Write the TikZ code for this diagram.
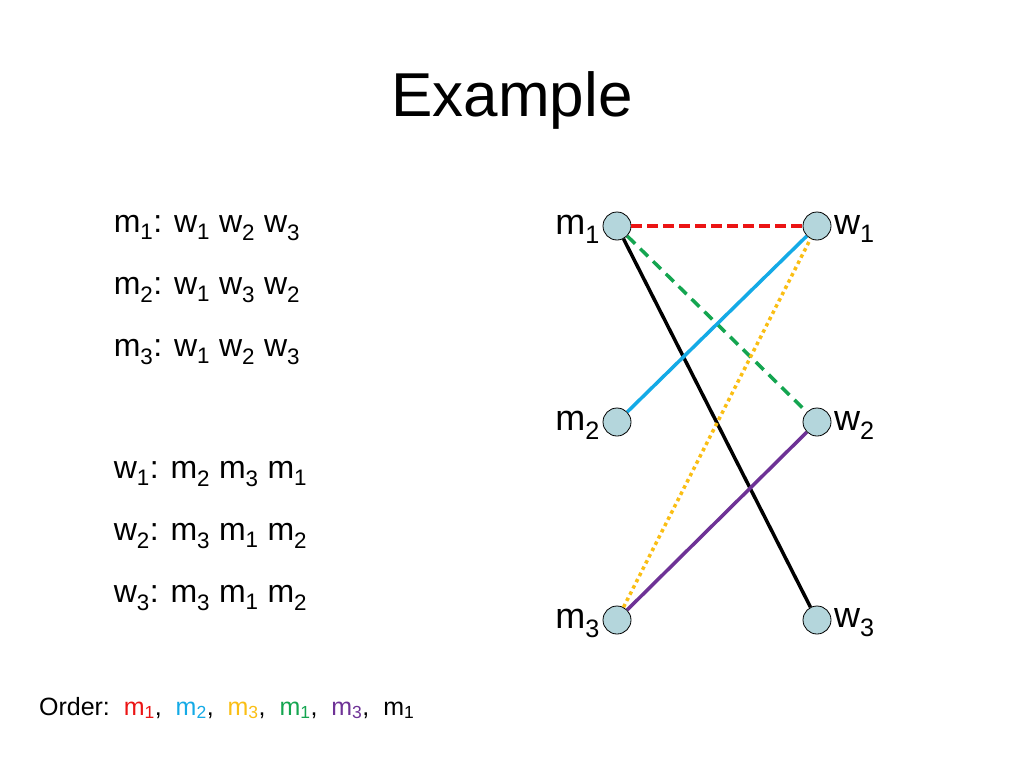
\documentclass[tikz,border=0pt]{standalone}
\usepackage{fontspec}
\setmainfont{Liberation Sans}
\usetikzlibrary{positioning}
\newcommand{\ix}[2]{#1\textsubscript{#2}}
\definecolor{nodefill}{RGB}{180,214,220}
\definecolor{myred}{RGB}{235,20,20}
\definecolor{myblue}{RGB}{20,170,230}
\definecolor{myorange}{RGB}{250,190,20}
\definecolor{mygreen}{RGB}{20,165,80}
\definecolor{mypurple}{RGB}{110,50,150}
\begin{document}
\begin{tikzpicture}[x=1pt,y=-1pt,
        person/.style={circle, draw, thick, fill=nodefill, minimum size=28pt, inner sep=0pt},
        plabel/.style={font=\fontsize{36}{38}\selectfont, inner sep=1pt},
        pref/.style={anchor=west, font=\fontsize{32}{34}\selectfont, inner sep=0pt},
        every path/.style={line width=3.5pt}
    ]
    \useasboundingbox (0,0) rectangle (1024,768);

    % Title
    \node (title) at (512,100) {\fontsize{62}{66}\selectfont Example};

    % Preferences
    \node[pref] (pm1) at (112,228) {\ix{m}{1}: \ix{w}{1} \ix{w}{2} \ix{w}{3}};
    \node[pref] (pm2) at (112,290) {\ix{m}{2}: \ix{w}{1} \ix{w}{3} \ix{w}{2}};
    \node[pref] (pm3) at (112,352) {\ix{m}{3}: \ix{w}{1} \ix{w}{2} \ix{w}{3}};
    \node[pref] (pw1) at (112,474) {\ix{w}{1}: \ix{m}{2} \ix{m}{3} \ix{m}{1}};
    \node[pref] (pw2) at (112,536) {\ix{w}{2}: \ix{m}{3} \ix{m}{1} \ix{m}{2}};
    \node[pref] (pw3) at (112,598) {\ix{w}{3}: \ix{m}{3} \ix{m}{1} \ix{m}{2}};

    % Nodes
    \node[person] (m1) at (617,226) {};
    \node[person] (m2) at (617,422) {};
    \node[person] (m3) at (617,620) {};
    \node[person] (w1) at (817,226) {};
    \node[person] (w2) at (817,422) {};
    \node[person] (w3) at (817,620) {};
    \node[plabel, left=0pt of m1, yshift=-3pt] (lm1) {\ix{m}{1}};
    \node[plabel, left=0pt of m2, yshift=-3pt] (lm2) {\ix{m}{2}};
    \node[plabel, left=0pt of m3, yshift=-3pt] (lm3) {\ix{m}{3}};
    \node[plabel, right=0pt of w1, yshift=-3pt] (lw1) {\ix{w}{1}};
    \node[plabel, right=0pt of w2, yshift=-3pt] (lw2) {\ix{w}{2}};
    \node[plabel, right=0pt of w3, yshift=-3pt] (lw3) {\ix{w}{3}};

    % Edges
    \draw[myred, dash pattern=on 11pt off 5pt] (m1) -- (w1);
    \draw[black] (m1) -- (w3);
    \draw[mygreen, dash pattern=on 11pt off 7pt] (m1) -- (w2);
    \draw[myblue] (m2) -- (w1);
    \draw[myorange, dash pattern=on 3.5pt off 3.5pt] (m3) -- (w1);
    \draw[mypurple] (m3) -- (w2);

    % Order
    \node[anchor=west, font=\fontsize{25}{28}\selectfont] (order) at (34,708)
      {Order:\ \ \textcolor{myred}{\ix{m}{1}},\ \ \textcolor{myblue}{\ix{m}{2}},\ \ \textcolor{myorange}{\ix{m}{3}},\ \ \textcolor{mygreen}{\ix{m}{1}},\ \ \textcolor{mypurple}{\ix{m}{3}},\ \ \ix{m}{1}};
    \end{tikzpicture}
\end{document}
